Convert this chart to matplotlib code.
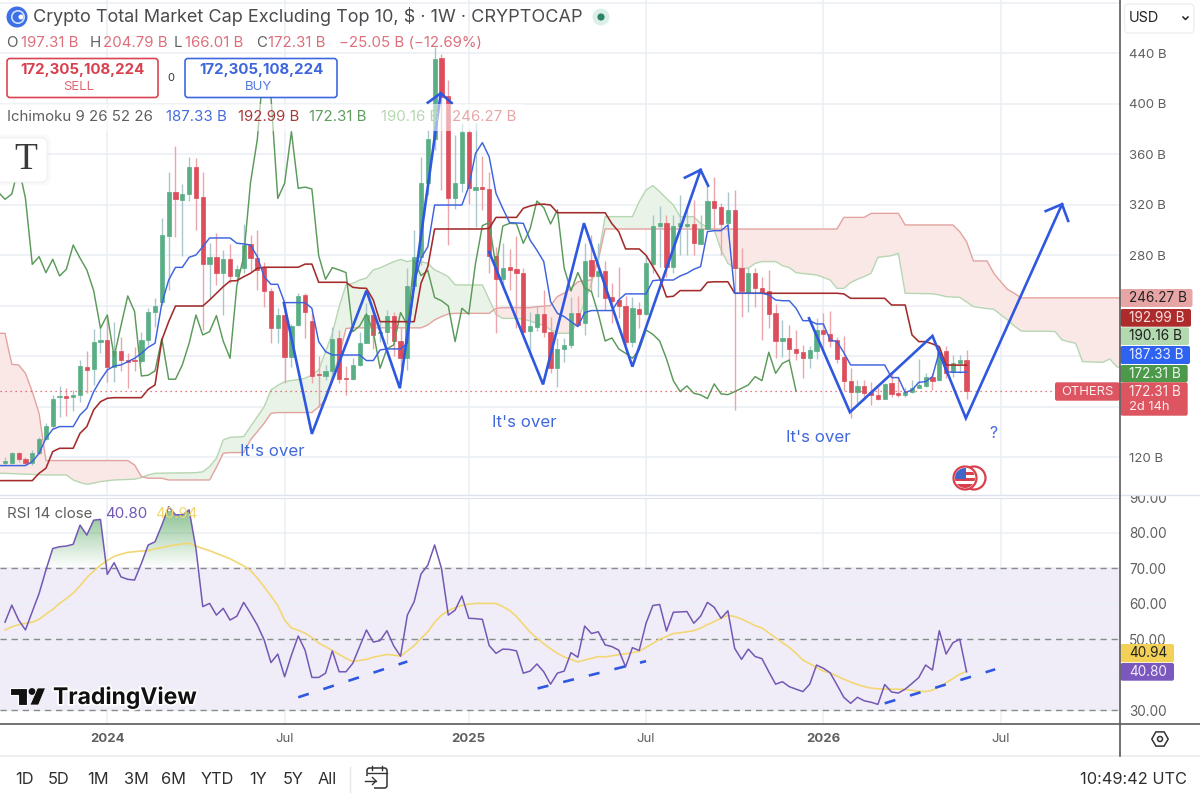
import numpy as np
import matplotlib
matplotlib.use('Agg')
import matplotlib.pyplot as plt
from matplotlib.patches import FancyBboxPatch, Rectangle, Circle, Polygon
from matplotlib.path import Path
from matplotlib.colors import LinearSegmentedColormap
import matplotlib.patheffects as pe

plt.rcParams['font.family'] = ['Inter', 'DejaVu Sans']

# weekly candles, billions of USD
opens = [115.7, 115.7, 123.1, 119, 115.2, 123.1, 134.5, 144.8, 167.5, 168.3, 167.5, 169.3, 191.8, 190.2, 211, 212.9, 191.8, 204.5, 197, 197,
         196.5, 212.9, 235.3, 242.7, 295.3, 330.1, 323.4, 328.5, 349.7, 325.9, 273.1, 278.9, 266.2, 276.8, 263.6, 270, 289, 277.6, 271, 252,
         222.2, 232.7, 199.7, 224.5, 248.3, 228.2, 186, 184.4, 188.4, 214.5, 182.8, 181.8, 193, 210.3, 232.7, 218.3, 219.5, 232.2, 212, 199,
         256, 279, 337.5, 371.8, 436, 406.2, 325, 337, 377.9, 332, 334.4, 332.2, 279.7, 261, 270.5, 268.9, 266.3, 220, 223.5, 233.3,
         219.3, 190.5, 205.8, 209, 234.6, 226, 276.3, 263.9, 267.6, 247.3, 244.6, 239.9, 211.6, 237.5, 233.5, 273.1, 303.5, 305.9, 271, 303,
         303, 304.5, 289, 300.9, 323.3, 318.5, 305.3, 315.9, 270.2, 251.2, 266.3, 254.1, 252, 234, 212.1, 214.5, 205.8, 203.2, 198.4, 204.2,
         220.8, 217.4, 212.9, 199.7, 180.7, 172, 176.5, 172, 169.4, 166.5, 178.6, 171, 169.4, 172, 174.6, 176.5, 183.9, 181.2, 204.2, 187.8,
         194.4, 197.31]
highs = [120.5, 124.5, 124.5, 120.5, 125.8, 136.3, 147.4, 169.3, 176.5, 174.6, 173.3, 197, 204.4, 221.3, 222.1, 231.4, 226.9, 215, 202.3, 207.1,
         219.5, 238.5, 245.9, 309.3, 346.2, 366.5, 336.5, 358.1, 356.8, 346.2, 289.5, 297.9, 284, 289, 272, 304.8, 296, 300, 275, 253.8,
         238, 241.9, 225.6, 250.4, 250.4, 234, 200, 193, 223.5, 220.8, 192.3, 198.4, 219.5, 242, 239.3, 227, 236.7, 235.4, 223.5, 269.7,
         300, 357.6, 379, 445, 439.4, 418.8, 375.3, 385, 379, 384.5, 358.6, 346.2, 286.8, 289.5, 285, 295, 270, 235.4, 240, 252.5,
         231.4, 214.3, 214.3, 247.3, 247.8, 289.5, 296, 290, 275.8, 257.8, 270.5, 247.8, 247, 243.3, 280.3, 312, 319.3, 312, 312, 327.8,
         316, 323.8, 312, 335.7, 342.3, 321.7, 329.9, 331.7, 285.5, 269.7, 269.7, 263, 268.4, 241.4, 228.8, 224.8, 220.8, 209, 208.4, 230,
         234, 236, 215.6, 216, 190.5, 181.2, 181, 180, 176, 178.6, 187.8, 183.9, 176, 181.2, 197.6, 186.5, 186.5, 207.6, 208.2, 201,
         201, 204.79]
lows = [113.9, 114.7, 116.5, 113.9, 113.9, 122.6, 133.7, 143, 152.2, 152.7, 156.9, 164.1, 170.7, 177.3, 202.3, 179.9, 179.9, 188.6, 174.6, 188.6,
        195, 209, 223.5, 240.6, 252.5, 294.7, 279.7, 323.3, 300, 220.8, 245.9, 256.5, 232.7, 258.3, 258.3, 265.7, 267, 252.5, 239.3, 210.3,
        210.3, 179, 191.8, 224, 214.2, 179, 160, 181, 182.5, 178.6, 169.4, 181, 192.3, 210.3, 206, 211, 210, 200, 191.8, 189,
        256, 272, 328, 363.4, 331.7, 288.2, 316.4, 330, 320.6, 302.2, 315.9, 266.2, 218.2, 253, 252.5, 222, 218.7, 199.8, 220, 215.6,
        187, 176, 195.8, 206.3, 224, 216.9, 251, 247, 236.7, 226, 230.5, 208.7, 207.6, 222.2, 232.7, 265.7, 271, 263, 265.7, 280,
        280, 280.3, 289, 300, 300, 280.3, 294.8, 157.5, 231.4, 235.4, 239.3, 212.9, 222, 198.4, 199.7, 197, 197, 182.6, 190.5, 197.6,
        203.7, 207.6, 194.4, 172.8, 150.9, 162.8, 165.4, 161, 165.4, 166, 168, 167.5, 167.5, 171.2, 174.6, 176, 173.3, 180.7, 182.6, 183.9,
        186.5, 166.01]
closes = [117.3, 123.1, 118.4, 115.2, 123.6, 134.5, 144.8, 165.9, 168.5, 167.2, 169.6, 192.3, 189.1, 211.3, 212.9, 191.3, 204.5, 197, 195.7, 196,
          212.9, 235, 240.1, 295.8, 330.1, 324.3, 328.5, 350.2, 325.1, 272.8, 278.9, 266.2, 276.8, 263.6, 268.9, 288.1, 277.8, 268.4, 252, 222.2,
          232.7, 199.7, 224, 247.8, 235.4, 184.4, 185, 188.4, 214, 181.8, 181.8, 193.1, 210.3, 232.7, 216.9, 219.5, 232.2, 212, 198.4, 256,
          279, 337.5, 371.8, 435.2, 405.6, 325, 337, 377.9, 333, 334, 332.5, 279.7, 261, 270.2, 268.4, 266.3, 219.5, 224, 233.5, 219.3,
          190.5, 205.8, 209, 234.6, 224.8, 275.8, 263.9, 267.9, 246.5, 244, 239.9, 211.6, 238, 233.3, 273.7, 303.5, 305.9, 270.5, 303.2, 305.3,
          305, 289.5, 300.9, 323, 317.7, 304.8, 315.9, 269.7, 251.7, 266.3, 254.1, 251.2, 233.5, 212.1, 214.5, 205.8, 202.4, 198.4, 205, 220.8,
          217.4, 212.1, 197.9, 180.7, 172, 176.5, 170.7, 169.4, 166.5, 178.1, 170.2, 169.6, 172, 174.6, 177.3, 183.9, 180.7, 203.2, 186.5, 194.4,
          197, 172.31]

# ichimoku lines, one value per week, first value sits one week before the first candle
tenkan = [113.4, 113.4, 113.4, 113.4, 113.4, 116.5, 123.1, 135, 142.1, 144.3, 144.3, 144.3, 153.5, 158.8, 172, 181.2, 189.1, 192.3, 193.1, 195.7, 198.4,
          202.3, 207.1, 210.3, 241.9, 260.4, 270.4, 270.4, 278.4, 280.2, 286.8, 293.7, 293.7, 293.7, 293.7, 289.5, 289, 288.1, 278.9, 263, 257,
          257, 242.5, 242.5, 242.5, 242.5, 238, 211.6, 203.7, 201, 201, 201, 201, 201, 196.6, 196.6, 205, 205.8, 205.8, 205.8, 210.3,
          257.8, 277.6, 286.8, 319.8, 319.8, 319.8, 319.8, 319.8, 334.4, 360.8, 369.2, 358, 329, 317, 305.8, 305.6, 305.3, 292, 284, 275,
          243.3, 234, 231.4, 227.4, 223.5, 234.6, 236.2, 236.2, 236.2, 236.2, 244.6, 249.4, 249.4, 249.4, 249.4, 259.9, 260.4, 260.4, 260.4, 263.6,
          265.7, 268.9, 271, 298.7, 299.5, 299.5, 304, 250, 249.9, 249.9, 249.9, 249.9, 248.6, 244.6, 244, 244, 238, 228.2, 228.2, 225.6,
          225.6, 212.9, 211.6, 202.9, 193.1, 193.1, 193.1, 193.1, 193.1, 193.1, 183.1, 183.1, 171.2, 173.3, 179.4, 179.9, 183.9, 203.7, 187.8, 187.33,
          187.33, 187.33]
kijun = [101.5, 101.5, 101.5, 101.5, 101.5, 101.5, 107.3, 111.3, 124.5, 127.1, 127.1, 127.1, 139, 144.3, 157.5, 164, 166.7, 167.2, 167.2, 167.2, 167.2,
         167.2, 173.8, 177.3, 212.9, 227.4, 239.8, 239.8, 239.8, 239.8, 239.8, 244.6, 249.9, 255.1, 259.6, 259.9, 263, 265.7, 269.7, 270.5, 270.5,
         270.5, 270.5, 270.5, 270.5, 273, 273, 258.6, 258.6, 258.6, 258.6, 258.6, 254.6, 254, 253.8, 244.6, 227.4, 227.4, 227.4, 227.4, 227.4,
         227.4, 257.8, 271, 300.8, 300.8, 300.8, 300.8, 300.8, 300.8, 300.8, 300.8, 301.3, 310, 310, 310, 310, 317.2, 319, 320.3, 320.5,
         319.8, 313.7, 313.7, 313.7, 313.7, 313.7, 313.7, 313.7, 313.7, 305, 298.7, 285, 285, 285, 280, 271, 262, 247, 247.5, 252,
         252, 252, 252, 258.6, 259, 259, 259, 249.9, 249.9, 249.9, 249.9, 249.9, 249.9, 249.9, 249.9, 249.9, 249.9, 249.9, 249.9, 249.9,
         249.9, 249.9, 249.9, 249.4, 245.9, 245.9, 245.9, 245.9, 245.9, 245.9, 240.6, 240.6, 240.6, 216.9, 211.6, 211.6, 209.8, 207.6, 193.1, 192.99,
         192.99, 192.99]
senkou_a = [107.3, 107.3, 107, 106.8, 106.6, 106.4, 106.2, 106, 106, 106, 106, 102, 100, 98.6, 99.5, 100.7, 101.4, 102, 102.2, 102.4, 102.6,
            103.9, 106, 107.3, 107.4, 107.5, 107.6, 107.6, 107.7, 107.8, 108.5, 112.6, 119.2, 133.7, 135.8, 136, 136.4, 144.3, 152.2, 160, 173.3,
            177, 179.9, 180.8, 181.5, 182.6, 185.2, 189.2, 203.7, 218.2, 239.3, 256.5, 257.8, 260.4, 262, 268.4, 270, 272.5, 274.9, 276.8, 274.9,
            276.3, 275, 273.6, 268.4, 266, 263, 256.5, 256.5, 256.5, 256.5, 256.5, 245, 233, 230, 230, 230, 229.3, 228, 226, 224.5,
            221, 218.2, 218.2, 218.2, 228.8, 243, 257.8, 278.9, 310.6, 310.6, 310.6, 310.6, 310.6, 322.5, 331.7, 335.2, 330.4, 325, 319.9, 310.6,
            310.6, 310.6, 305.3, 302, 300, 284.2, 273.6, 269.7, 269.7, 269.7, 273.6, 275, 275, 275, 271.8, 270.2, 266.2, 265.5, 265, 264.4,
            262.5, 260.4, 253.8, 253.8, 258.3, 261, 263.1, 265.7, 278.4, 279, 279.7, 281.6, 249.9, 249.8, 249.7, 249.6, 249.5, 248.6, 247.2, 246.9,
            246.7, 243, 239.3, 238.5, 237.8, 237.2, 233, 228.8, 224, 220, 219.8, 219.8, 219.8, 219.8, 219.5, 212.9, 211.5, 210.3, 195.8, 195.6,
            195.4, 195.2, 197.9, 191.8, 190.16]
senkou_b = [218.2, 218.2, 193.6, 193.1, 186.5, 172, 154.8, 117.4, 117.4, 117.4, 117.4, 117.4, 117.4, 117.4, 117.4, 117.4, 117.4, 117.4, 117.4, 117.4, 113.9,
            104.7, 103.4, 103.4, 103.4, 102, 102, 102, 102, 102, 102, 102, 112, 123.2, 123.7, 123.7, 123.7, 133.7, 140.3, 146.9, 154.8,
            155.4, 155.4, 155.4, 155.4, 155.4, 155.4, 160, 165.4, 183.9, 199.7, 222, 222.5, 222.5, 222.5, 222.5, 222.5, 222.5, 222.5, 222.5, 222.5,
            222.5, 222.5, 224.8, 228.8, 231.4, 233.5, 234, 234, 234, 234, 234, 234, 238, 238.5, 238.5, 238.5, 238.5, 238.5, 239.3, 239.6,
            240.1, 247.3, 250, 253.9, 259, 260, 260.5, 276.3, 300.9, 300.8, 300.8, 300.8, 300.8, 300.8, 300.8, 300.8, 300.8, 300.8, 300.8, 300.8,
            300.8, 300.8, 300.8, 300.8, 300.8, 300.8, 300.8, 300.8, 300.8, 300.8, 300.8, 300.8, 300.8, 300.8, 300.8, 300.8, 300.8, 300.8, 300.8, 300.8,
            300.8, 300.8, 300.8, 310, 310, 310, 310, 313.2, 313.2, 313.2, 313.2, 313.2, 304, 304, 304, 304, 304, 304, 304, 304,
            298.7, 290.8, 275.5, 275.5, 275.5, 265.7, 259.1, 253, 249.9, 246.27, 246.27, 246.27, 246.27, 246.27, 246.27, 246.27, 246.27, 246.27, 246.27, 246.27,
            246.27, 246.27, 246.27, 246.27, 246.27]

rsi = [54.8, 59.6, 55.4, 52.6, 57.8, 62.9, 69.5, 75.6, 76.1, 76.3, 76.8, 82.2, 79.4, 83.6, 83.8, 68.3, 71.6, 67.6, 66.9, 66.7,
       71.4, 76.6, 77.5, 82.2, 87.4, 85.1, 85.1, 86.5, 75.6, 59.2, 60.1, 56.8, 58.7, 55.4, 56.5, 60.4, 57.3, 54, 49.8, 43.4,
       45.8, 39.4, 45.5, 50.9, 46.9, 39.2, 39.2, 40.4, 46.7, 40.8, 40.8, 43.2, 47.9, 52.6, 49.2, 49.6, 52.4, 48.1, 45.2, 56.8,
       60.6, 68.4, 70.9, 76.6, 70, 56.8, 58.2, 62.2, 55.9, 55.8, 55.6, 48.2, 46, 47.2, 47.1, 46.7, 40.4, 41, 43, 40.8,
       37.3, 40.4, 41, 46.2, 44.9, 53.7, 51.6, 52.1, 48.4, 47.9, 46.9, 42.2, 47.6, 46.8, 54.5, 59.5, 59.8, 52.3, 57.6, 57.7,
       57.8, 54.5, 56.5, 60.4, 59, 55.9, 58, 47.4, 44.3, 47.2, 45.1, 44.5, 40.8, 37.3, 38, 36.6, 35.9, 35.2, 37.3, 42.7,
       41.8, 40.5, 37.1, 33.6, 31.9, 33.6, 32.6, 32.2, 31.6, 37.2, 35.1, 34.8, 35.9, 37.5, 39.2, 42.7, 41.3, 52.4, 45.8, 49,
       50, 40.8]
rsi_ma = [52.6, 53.5, 54.1, 54.5, 54.8, 55.6, 57.1, 58.4, 60.1, 61.5, 63, 65.1, 67.4, 69.2, 70.9, 72.2, 73.4, 74, 74.5, 74.7,
          74.9, 75, 75.5, 75.9, 76.3, 76.6, 76.9, 77.1, 76.3, 75.6, 75, 74.2, 73.5, 72.7, 71.7, 70.7, 69.4, 67.2, 64.8, 62.2,
          59.5, 55.4, 53.2, 52.5, 51.7, 50.5, 48.9, 47.9, 46.8, 45.7, 44.6, 43.7, 44, 44.3, 44.9, 45.3, 45.7, 45.5, 45.2, 46.7,
          48.2, 50.2, 52.1, 54.8, 56.8, 58, 58.9, 59.5, 59.9, 60.1, 60.1, 60.1, 60.1, 59.2, 58.1, 56.4, 54.2, 52, 50.3, 48.7,
          47.3, 46, 45, 44.3, 43.6, 44.1, 44.6, 45.1, 45, 45.3, 45.6, 45.9, 46.2, 46.6, 47.7, 48.8, 50, 50.8, 51.6, 51.8,
          52.1, 52.4, 53.1, 54.1, 55, 55.9, 56.7, 56.4, 55.7, 54.8, 53.8, 53.2, 51.8, 50.4, 49, 47.7, 46, 44.1, 43.1, 42,
          41, 40.5, 39.6, 38.7, 37.9, 37.2, 36.6, 36.2, 36, 35.9, 35.9, 35.9, 35.8, 35.6, 35.3, 35.2, 35.6, 36.6, 37.7, 38.9,
          40.1, 40.94]

# hand drawn trend lines on the price pane (week, price)
zig1_w = [40.9, 45, 53, 57.9, 63.9]
zig1_p = [242.2, 138.5, 252, 174.7, 408.3]
head1_w = [62, 63.9, 65.5]
head1_p = [400.9, 408.3, 400.6]
zig2_w = [71, 78.9, 84.9, 92, 102]
zig2_p = [282.6, 177.7, 305.4, 191.8, 347.6]
head2_w = [99.7, 102, 103.1]
head2_p = [341.5, 347.6, 335.1]
zig3_w = [117.9, 123.9, 136, 140.9, 155]
zig3_p = [230.1, 155.7, 216.1, 150.9, 320.4]
head3_w = [152.6, 155, 155.9]
head3_p = [315, 320.4, 307.2]

# dashed trend lines on the rsi pane (week, rsi)
trend_w = [[43, 59], [78.1, 94], [129, 145.2]]
trend_r = [[33.6, 43.7], [36.1, 43.8], [31.9, 41.5]]

month_weeks = [15, 41, 68, 94, 120, 146]
month_labels = ['2024', 'Jul', '2025', 'Jul', '2026', 'Jul']
price_ticks = [120, 160, 200, 240, 280, 320, 360, 400, 440, 480]
price_labels = ['120 B', '', '', '', '280 B', '320 B', '360 B', '400 B', '440 B', '']
rsi_ticks = [30, 40, 50, 60, 70, 80, 90]
rsi_labels = ['30.00', '', '50.00', '60.00', '70.00', '80.00', '90.00']
ranges = ['1D', '5D', '1M', '3M', '6M', 'YTD', '1Y', '5Y', 'All']
range_x = [24, 59, 98, 136, 174, 217, 258, 293, 327]

GREEN = '#5AAE85'
RED = '#DC4E5B'
WICK_G = '#A9C6CB'
WICK_R = '#EBA6AB'
BLUE = '#2F58E0'
GRID = '#EBEFF5'
GRAY = '#5F5F5F'

W, H = 1200, 794
fig = plt.figure(figsize=(12, 7.94), dpi=100, facecolor='white')


def pane(left, top, right, bottom):
    return fig.add_axes([left / W, 1 - bottom / H, (right - left) / W, (bottom - top) / H])


# price pane
ax = pane(0, 0, 1120, 494.5)
ax.set_xlim(-0.733, 163.5)
ax.set_ylim(90.5, 482.2)
weeks = np.arange(len(closes))
line_x = np.arange(-1, len(tenkan) - 1)
cloud_x = np.arange(-1, len(senkou_a) - 1)
a = np.array(senkou_a)
b = np.array(senkou_b)
ax.fill_between(cloud_x, a, b, where=a >= b, interpolate=True, color='#E9F3E8', lw=0, zorder=1)
ax.fill_between(cloud_x, a, b, where=a < b, interpolate=True, color='#FAE8E6', lw=0, zorder=1)
ax.plot(cloud_x, a, color='#B7D6B2', lw=1, zorder=2)
ax.plot(cloud_x, b, color='#E3A3A0', lw=1, zorder=2)

o = np.array(opens)
c = np.array(closes)
up = c >= o
ax.vlines(weeks[up], np.array(lows)[up], np.array(highs)[up], color=WICK_G, lw=1, zorder=3)
ax.vlines(weeks[~up], np.array(lows)[~up], np.array(highs)[~up], color=WICK_R, lw=1, zorder=3)
ax.bar(weeks[up], (c - o)[up], bottom=o[up], width=0.62, color=GREEN, edgecolor=GREEN, lw=0.5, zorder=4)
ax.bar(weeks[~up], (o - c)[~up], bottom=c[~up], width=0.62, color=RED, edgecolor=RED, lw=0.5, zorder=4)

# lagging span is the close moved back 25 bars
ax.plot(weeks - 25, c, color='#5B9A5A', lw=1.05, zorder=5)
ax.plot(line_x, kijun, color='#A32B2B', lw=1.15, zorder=5)
ax.plot(line_x, tenkan, color='#3D62DE', lw=1.05, zorder=5)
ax.axhline(172.31, xmax=1055 / 1120, color='#DC4E5B', lw=0.9, ls=(0, (1, 3)), zorder=5)

for xs, ys in [(zig1_w, zig1_p), (head1_w, head1_p), (zig2_w, zig2_p), (head2_w, head2_p), (zig3_w, zig3_p), (head3_w, head3_p)]:
    ax.plot(xs, ys, color=BLUE, lw=1.9, solid_joinstyle='miter', zorder=6)

ax.set_xticks(month_weeks)
ax.set_xticklabels([])
ax.yaxis.tick_right()
ax.set_yticks(price_ticks)
ax.set_yticklabels(price_labels, color=GRAY, fontsize=9.5, ha='left')
ax.tick_params(axis='y', length=0, pad=6.5)
ax.tick_params(axis='x', length=0)
ax.grid(color=GRID, lw=1.2)
ax.set_axisbelow(True)
for s in ax.spines.values():
    s.set_visible(False)

# rsi pane
ax2 = pane(0, 497.5, 1120, 723.5)
ax2.set_xlim(-0.733, 163.5)
ax2.set_ylim(26.2, 90)
ax2.axhspan(30, 70, color='#F1EDF8', lw=0, zorder=0.5)
for level in [30, 50, 70]:
    ax2.axhline(level, color='#8A8A8E', lw=1, ls=(0, (4.5, 3.5)), zorder=2)

r = np.array(rsi)
rx = weeks
fill = ax2.fill_between(rx, 70, r, where=r >= 70, interpolate=True, color='none', lw=0)
hot = LinearSegmentedColormap.from_list('hot', [(0.42, 0.70, 0.46, 0.0), (0.42, 0.70, 0.46, 0.78)])
grad = ax2.imshow(np.linspace(1, 0, 128).reshape(-1, 1), extent=[-1, 40, 70, 86], cmap=hot, aspect='auto', zorder=2.5)
grad.set_clip_path(Path.make_compound_path(*fill.get_paths()), transform=ax2.transData)
ax2.set_xlim(-0.733, 163.5)
ax2.set_ylim(26.2, 90)

ax2.plot(weeks, rsi_ma, color='#F3D774', lw=1.2, zorder=3)
ax2.plot(weeks, rsi, color='#7358B4', lw=1.1, zorder=4)
for xs, ys in zip(trend_w, trend_r):
    ax2.plot(xs, ys, color=BLUE, lw=1.9, ls=(0, (4.2, 5.8)), zorder=5)

ax2.set_xticks(month_weeks)
ax2.set_xticklabels(month_labels, color=GRAY, fontsize=9.5)
for lab, name in zip(ax2.get_xticklabels(), month_labels):
    if name != 'Jul':
        lab.set_fontweight('bold')
ax2.tick_params(axis='x', length=0, pad=6.5)
ax2.yaxis.tick_right()
ax2.set_yticks(rsi_ticks)
ax2.set_yticklabels(rsi_labels, color=GRAY, fontsize=9.8, ha='left')
ax2.tick_params(axis='y', length=0, pad=6.5)
ax2.grid(color=GRID, lw=1.1)
ax2.set_axisbelow(True)
for s in ax2.spines.values():
    s.set_visible(False)

# chrome in pixel coordinates on top of both panes
top = fig.add_axes([0, 0, 1, 1])
top.set_xlim(0, W)
top.set_ylim(H, 0)
top.axis('off')


def label(x, y, s, color=GRAY, size=9.6, ha='left', weight='normal', **kw):
    return top.text(x, y, s, color=color, fontsize=size, ha=ha, va='center', fontweight=weight, **kw)


def box(x0, y0, x1, y1, face, edge='none', rad=3, lw=1.2, **kw):
    p = FancyBboxPatch((x0 + rad, y0 + rad), x1 - x0 - 2 * rad, y1 - y0 - 2 * rad,
                       boxstyle='round,pad=%g,rounding_size=%g' % (rad, rad), fc=face, ec=edge, lw=lw, **kw)
    top.add_patch(p)
    return p


# top of the 90.00 label is cut by the pane edge
top.add_patch(Rectangle((1121, 488), 79, 8, fc='white', ec='none'))
top.plot([0, W], [495, 495], color='#DDE2EC', lw=1)
top.plot([0, 1120], [497.5, 497.5], color='#DDE2EC', lw=0.8)
top.plot([0, W], [723.5, 723.5], color='#5A5A5A', lw=1.2)
top.plot([0, W], [756, 756], color='#EFEFEF', lw=1.4)
top.plot([1120, 1120], [0, 756], color='#5A5A5A', lw=1.2)

# header
top.add_patch(Circle((17, 17), 10.5, fc='#3D6FE8', ec='none'))
top.add_patch(Circle((21, 17), 2.5, fc='white', ec='none'))
top.add_patch(Circle((18, 17), 6.2, fc='none', ec='#CFE0FF', lw=1.2))
label(33, 17, 'Crypto Total Market Cap Excluding Top 10, $ · 1W · CRYPTOCAP', color='#4B4B4F', size=13)
top.add_patch(Circle((601, 17), 8.5, fc='#DCEFE7', ec='none'))
top.add_patch(Circle((601, 17), 3.6, fc='#2C8468', ec='none'))

PALE_RED = '#DC6F7A'
for x, s, col in [(6, 'O', GRAY), (21, '197.31 B', PALE_RED), (90, 'H', GRAY), (103, '204.79 B', PALE_RED),
                  (174, 'L', GRAY), (185, '166.01 B', PALE_RED), (256, 'C', GRAY), (268, '172.31 B', PALE_RED),
                  (339, '−25.05 B (−12.69%)', PALE_RED)]:
    label(x, 43, s, color=col, size=10.8)

box(7, 58.5, 158, 97.5, 'white', '#DB4452')
label(82, 70, '172,305,108,224', color='#D9404E', size=10.8, ha='center', weight='bold')
label(79, 87, 'SELL', color='#DD6670', size=9.5, ha='center')
label(171, 78, '0', color='#333333', size=8, ha='center')
box(185, 58.5, 337, 97.5, 'white', '#3F68DE')
label(261, 70, '172,305,108,224', color='#3E66DC', size=10.8, ha='center', weight='bold')
label(258, 87, 'BUY', color='#5378E0', size=9.5, ha='center')

top.add_patch(Rectangle((0, 104), 525, 27, fc='white', ec='none', alpha=0.55))
label(7, 117, 'Ichimoku 9 26 52 26', size=10.8)
label(166, 117, '187.33 B', color='#4569DF', size=10.8)
label(238, 117, '192.99 B', color='#A83A3A', size=10.8)
label(309, 117, '172.31 B', color='#5F9D5E', size=10.8)
label(381, 117, '190.16 B', color='#B6D7B1', size=10.8)
label(452, 117, '246.27 B', color='#E6A8A6', size=10.8)

# soft shadow under the text tool button
for grow, alpha in [(4, 0.05), (2, 0.06)]:
    box(-12 - grow, 138 - grow, 47 + grow, 182 + grow, '#BBBBBB', rad=8, alpha=alpha)
box(-12, 138, 47, 182, 'white', '#F1F1F1', rad=6, lw=0.8)
top.text(26, 160, 'T', family='Liberation Serif', fontsize=27, color='#3A3A3A', ha='center', va='center')

# drawing labels
for x, y in [(240, 452), (492, 422.5), (786, 438)]:
    label(x, y, "It's over", color='#4068DC', size=12.2)
label(993, 434, '?', color='#4068DC', size=11.5, ha='center')

# flag badge
for cx in [974, 965]:
    top.add_patch(Circle((cx, 478), 11.5, fc='white', ec='#D9404E', lw=1.6))
disc = Circle((965, 478), 10, transform=top.transData)
for y0, hh, col in [(472, 3, '#D9404E'), (478, 3, '#D9404E'), (484, 4, '#D9404E')]:
    rr = top.add_patch(Rectangle((955, y0), 21, hh, fc=col, ec='none'))
    rr.set_clip_path(disc)
rr = top.add_patch(Rectangle((955, 467), 11, 12, fc='#3F66C8', ec='none'))
rr.set_clip_path(disc)

# currency selector
box(1124.5, 4, 1194, 33, 'white', '#EFEFEF', rad=4, lw=1)
label(1129, 18.5, 'USD', color='#222222', size=10.4)
top.plot([1183, 1185.5, 1188], [17, 19.5, 17], color='#222222', lw=1.1)

# price tags on the scale
tags = [(289, 307, 1192.5, '#E8A5A5', '246.27 B', '#222222'),
        (309, 326.7, 1191, '#AE2B2B', '192.99 B', '#F6E4E4'),
        (327.3, 345, 1189, '#B2D9AF', '190.16 B', '#1E1E1E'),
        (346, 364, 1190, '#2E62F1', '187.33 B', '#EAF0FF'),
        (365, 382.3, 1187.7, '#4D994B', '172.31 B', '#EDF7ED')]
for y0, y1, x1, col, s, tc in tags:
    box(1120.5, y0, x1, y1, col, rad=2)
    label(1129, (y0 + y1) / 2, s, color=tc, size=9.8)
box(1120.5, 382.3, 1187.7, 415.7, '#DC5561', rad=2)
label(1129, 392, '172.31 B', color='#FBECEE', size=9.8)
label(1129, 407, '2d 14h', color='#FBECEE', size=9.4)
box(1055, 382.3, 1119.5, 400.7, '#DC5561', rad=2)
label(1087, 392, 'OTHERS', color='#FBECEE', size=9.4, ha='center')

# rsi legend and tags
label(7, 514.5, 'RSI 14 close', size=10.8)
label(105, 514.5, '40.80', color='#7358B4', size=10.8)
label(155, 514.5, '40.94', color='#F0D770', size=10.8)
box(1120.5, 644, 1174, 662.3, '#F3D157', rad=2)
label(1129, 653, '40.94', color='#222222', size=9.8)
box(1120.5, 663, 1174, 680.7, '#7B58BE', rad=2)
label(1129, 672, '40.80', color='#F1ECFA', size=9.8)

# wordmark
halo = [pe.withStroke(linewidth=2.5, foreground='white')]
top.add_patch(Polygon([(10, 688), (27, 688), (27, 705), (18, 705), (18, 695), (10, 695)], fc='#111111', ec='white', lw=0.8))
top.add_patch(Circle((32, 691.5), 3.4, fc='#111111', ec='none'))
top.add_patch(Polygon([(45.5, 688), (37.5, 688), (30, 705), (38.5, 705)], fc='#111111', ec='white', lw=0.5))
label(53, 697.5, 'TradingView', color='#111111', size=16.5, weight='bold', path_effects=halo)

# range toolbar
for x, s in zip(range_x, ranges):
    label(x, 780, s, color='#2E2E2E', size=11.8, ha='center')
top.plot([349.5, 349.5], [767, 792], color='#E6E6E6', lw=1)
box(367, 768, 387, 788, 'none', '#333333', rad=2.5, lw=1.1)
top.add_patch(Rectangle((364, 776), 10, 14, fc='white', ec='none'))
top.plot([368, 387], [773, 773], color='#333333', lw=1)
top.plot([372, 372], [765.5, 770], color='#333333', lw=1)
top.plot([382, 382], [765.5, 770], color='#333333', lw=1)
top.plot([365, 376], [781, 781], color='#333333', lw=1)
top.plot([372.5, 376, 372.5], [777.5, 781, 784.5], color='#333333', lw=1)
label(1187.5, 780, '10:49:42 UTC', color='#2E2E2E', size=11.8, ha='right')

# settings glyph
ang = np.radians([0, 60, 120, 180, 240, 300])
top.add_patch(Polygon(np.c_[1160 + 8.2 * np.cos(ang), 739 + 8.2 * np.sin(ang)], fc='none', ec='#333333', lw=1.1))
top.add_patch(Circle((1160, 739), 2.5, fc='none', ec='#333333', lw=1.1))

fig.savefig('out.png', dpi=100)
